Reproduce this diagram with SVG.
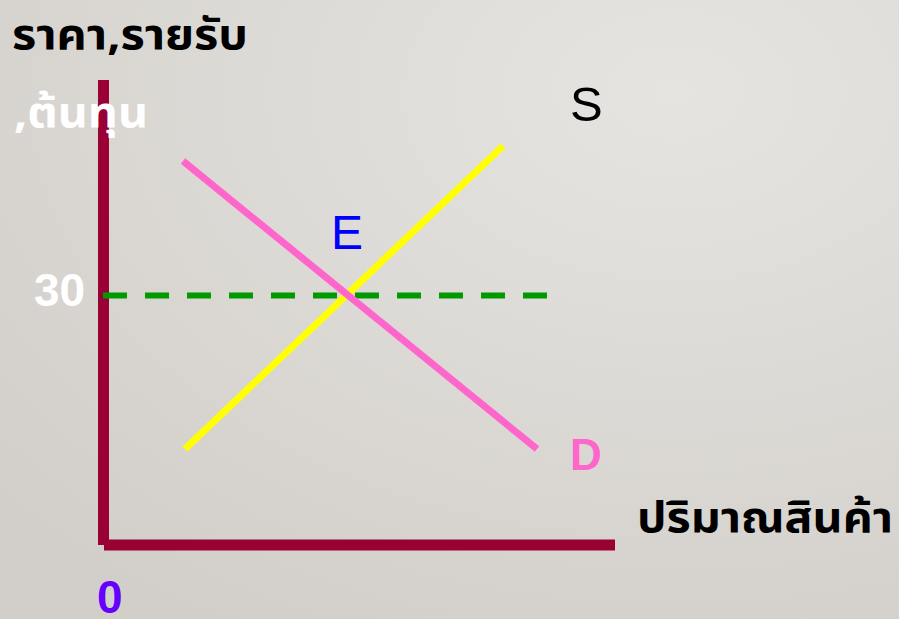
<svg xmlns="http://www.w3.org/2000/svg" width="899" height="619" viewBox="0 0 899 619">
<defs>
<radialGradient id="bg" cx="0.75" cy="0.15" r="1">
<stop offset="0" stop-color="#E6E4E1"/>
<stop offset="1" stop-color="#D2CFCA"/>
</radialGradient>
</defs>
<style>
.axis{stroke:#990033;stroke-width:11;fill:none}
.th{font-family:"Noto Sans Thai","Tahoma","DejaVu Sans","Noto Sans",sans-serif;font-weight:bold;font-size:43px}
.lat{font-family:"Liberation Sans",Arial,sans-serif}
</style>
<rect width="899" height="619" fill="url(#bg)"/>
<g id="connectors">
<line id="y-axis" class="axis" x1="103.5" y1="80" x2="103.5" y2="545"/>
<line id="x-axis" class="axis" x1="104" y1="545" x2="615" y2="545"/>
<line id="price-line" x1="103" y1="295.5" x2="548" y2="295.5" stroke="#009900" stroke-width="6" stroke-dasharray="24 18"/>
<line id="supply" x1="185" y1="449" x2="503" y2="146" stroke="#FFFF00" stroke-width="7"/>
<line id="demand" x1="183" y1="161" x2="537" y2="449" stroke="#FF66CC" stroke-width="7"/>
</g>
<g id="label-yaxis">
<text class="th" x="12" y="49" fill="#000000" textLength="236" lengthAdjust="spacingAndGlyphs">ราคา,รายรับ</text>
<text class="th" x="14" y="127" fill="#FFFFFF" textLength="134" lengthAdjust="spacingAndGlyphs">,ต้นทุน</text>
</g>
<g id="label-xaxis">
<text class="th" x="637" y="532" fill="#000000" textLength="256" lengthAdjust="spacingAndGlyphs">ปริมาณสินค้า</text>
</g>
<g id="label-30"><text class="lat" x="34" y="306" font-size="46" font-weight="bold" fill="#FFFFFF">30</text></g>
<g id="label-0"><text class="lat" x="97" y="613" font-size="46" font-weight="bold" fill="#6600FF">0</text></g>
<g id="label-E"><text class="lat" x="331" y="249" font-size="48" fill="#0000FF">E</text></g>
<g id="label-S"><text class="lat" x="570" y="121" font-size="49" fill="#000000">S</text></g>
<g id="label-D"><text class="lat" x="570" y="470" font-size="44" font-weight="bold" fill="#FF66CC">D</text></g>
</svg>
